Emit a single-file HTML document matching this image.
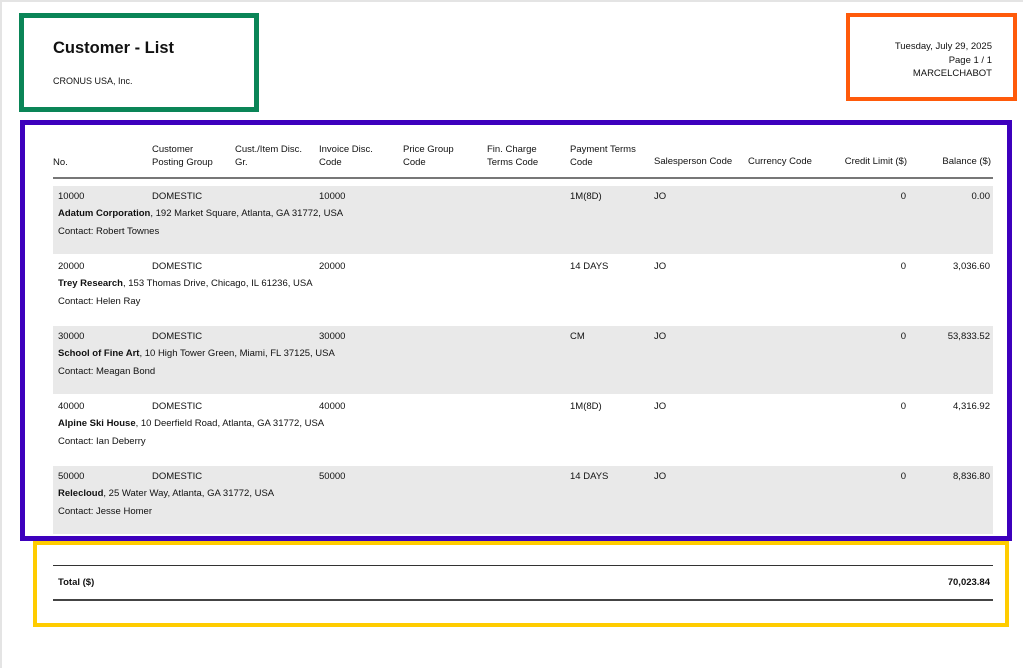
<!DOCTYPE html>
<html><head><meta charset="utf-8"><style>
body{margin:0;width:1023px;height:668px;background:#fff;position:relative;overflow:hidden;font-family:"Liberation Sans",sans-serif;color:#111;font-size:9.5px}
.a{position:absolute;white-space:nowrap}
.box{position:absolute;box-sizing:border-box}
.r{text-align:right}
.b{font-weight:bold}
.band{position:absolute;left:53px;width:940px;height:68px;background:#e9e9e9}
</style></head><body>
<div class="box" style="left:0;top:0;width:1023px;height:668px;border-left:2px solid #e4e4e4;border-top:2px solid #e4e4e4"></div>
<div class="box" style="left:19px;top:13px;width:240px;height:99px;border:5px solid #0a8557"></div>
<div class="box" style="left:846px;top:13px;width:171px;height:88px;border:4px solid #ff5a0a"></div>
<div class="box" style="left:20px;top:120px;width:992px;height:421px;border:5px solid #3d00bd"></div>
<div class="box" style="left:33px;top:541px;width:976px;height:86px;border:4px solid #ffcc00"></div>

<div class="a b" style="left:53px;top:39px;font-size:16.5px">Customer - List</div>
<div class="a" style="left:53px;top:76px;font-size:9px">CRONUS USA, Inc.</div>
<div class="a r" style="right:31px;top:40px;line-height:13.5px;font-size:9.5px">Tuesday, July 29, 2025<br>Page 1 / 1<br>MARCELCHABOT</div>

<div class="a" style="left:53px;top:143px;line-height:13px;font-size:9.5px"><br>No.</div>
<div class="a" style="left:152px;top:143px;line-height:13px">Customer<br>Posting Group</div>
<div class="a" style="left:235px;top:143px;line-height:13px">Cust./Item Disc.<br>Gr.</div>
<div class="a" style="left:319px;top:143px;line-height:13px">Invoice Disc.<br>Code</div>
<div class="a" style="left:403px;top:143px;line-height:13px">Price Group<br>Code</div>
<div class="a" style="left:487px;top:143px;line-height:13px">Fin. Charge<br>Terms Code</div>
<div class="a" style="left:570px;top:143px;line-height:13px">Payment Terms<br>Code</div>
<div class="a" style="left:654px;top:156px">Salesperson Code</div>
<div class="a" style="left:748px;top:156px">Currency Code</div>
<div class="a r" style="right:116px;top:156px">Credit Limit ($)</div>
<div class="a r" style="right:32px;top:156px">Balance ($)</div>
<div class="a" style="left:53px;top:177px;width:940px;height:2px;background:#777"></div>

<div class="band" style="top:186px"></div>
<div class="band" style="top:326px"></div>
<div class="band" style="top:466px"></div>

<div class="a" style="left:58px;top:191px">10000</div><div class="a" style="left:152px;top:191px">DOMESTIC</div><div class="a" style="left:319px;top:191px">10000</div><div class="a" style="left:570px;top:191px">1M(8D)</div><div class="a" style="left:654px;top:191px">JO</div><div class="a r" style="right:117px;top:191px">0</div><div class="a r" style="right:33px;top:191px">0.00</div>
<div class="a" style="left:58px;top:208px"><b>Adatum Corporation</b>, 192 Market Square, Atlanta, GA 31772, USA</div>
<div class="a" style="left:58px;top:226px">Contact: Robert Townes</div>

<div class="a" style="left:58px;top:261px">20000</div><div class="a" style="left:152px;top:261px">DOMESTIC</div><div class="a" style="left:319px;top:261px">20000</div><div class="a" style="left:570px;top:261px">14 DAYS</div><div class="a" style="left:654px;top:261px">JO</div><div class="a r" style="right:117px;top:261px">0</div><div class="a r" style="right:33px;top:261px">3,036.60</div>
<div class="a" style="left:58px;top:278px"><b>Trey Research</b>, 153 Thomas Drive, Chicago, IL 61236, USA</div>
<div class="a" style="left:58px;top:296px">Contact: Helen Ray</div>

<div class="a" style="left:58px;top:331px">30000</div><div class="a" style="left:152px;top:331px">DOMESTIC</div><div class="a" style="left:319px;top:331px">30000</div><div class="a" style="left:570px;top:331px">CM</div><div class="a" style="left:654px;top:331px">JO</div><div class="a r" style="right:117px;top:331px">0</div><div class="a r" style="right:33px;top:331px">53,833.52</div>
<div class="a" style="left:58px;top:348px"><b>School of Fine Art</b>, 10 High Tower Green, Miami, FL 37125, USA</div>
<div class="a" style="left:58px;top:366px">Contact: Meagan Bond</div>

<div class="a" style="left:58px;top:401px">40000</div><div class="a" style="left:152px;top:401px">DOMESTIC</div><div class="a" style="left:319px;top:401px">40000</div><div class="a" style="left:570px;top:401px">1M(8D)</div><div class="a" style="left:654px;top:401px">JO</div><div class="a r" style="right:117px;top:401px">0</div><div class="a r" style="right:33px;top:401px">4,316.92</div>
<div class="a" style="left:58px;top:418px"><b>Alpine Ski House</b>, 10 Deerfield Road, Atlanta, GA 31772, USA</div>
<div class="a" style="left:58px;top:436px">Contact: Ian Deberry</div>

<div class="a" style="left:58px;top:471px">50000</div><div class="a" style="left:152px;top:471px">DOMESTIC</div><div class="a" style="left:319px;top:471px">50000</div><div class="a" style="left:570px;top:471px">14 DAYS</div><div class="a" style="left:654px;top:471px">JO</div><div class="a r" style="right:117px;top:471px">0</div><div class="a r" style="right:33px;top:471px">8,836.80</div>
<div class="a" style="left:58px;top:488px"><b>Relecloud</b>, 25 Water Way, Atlanta, GA 31772, USA</div>
<div class="a" style="left:58px;top:506px">Contact: Jesse Homer</div>

<div class="a" style="left:53px;top:565px;width:940px;height:1px;background:#333"></div>
<div class="a b" style="left:58px;top:577px">Total ($)</div>
<div class="a b r" style="right:33px;top:577px">70,023.84</div>
<div class="a" style="left:53px;top:599px;width:940px;height:2px;background:#444"></div>
</body></html>
